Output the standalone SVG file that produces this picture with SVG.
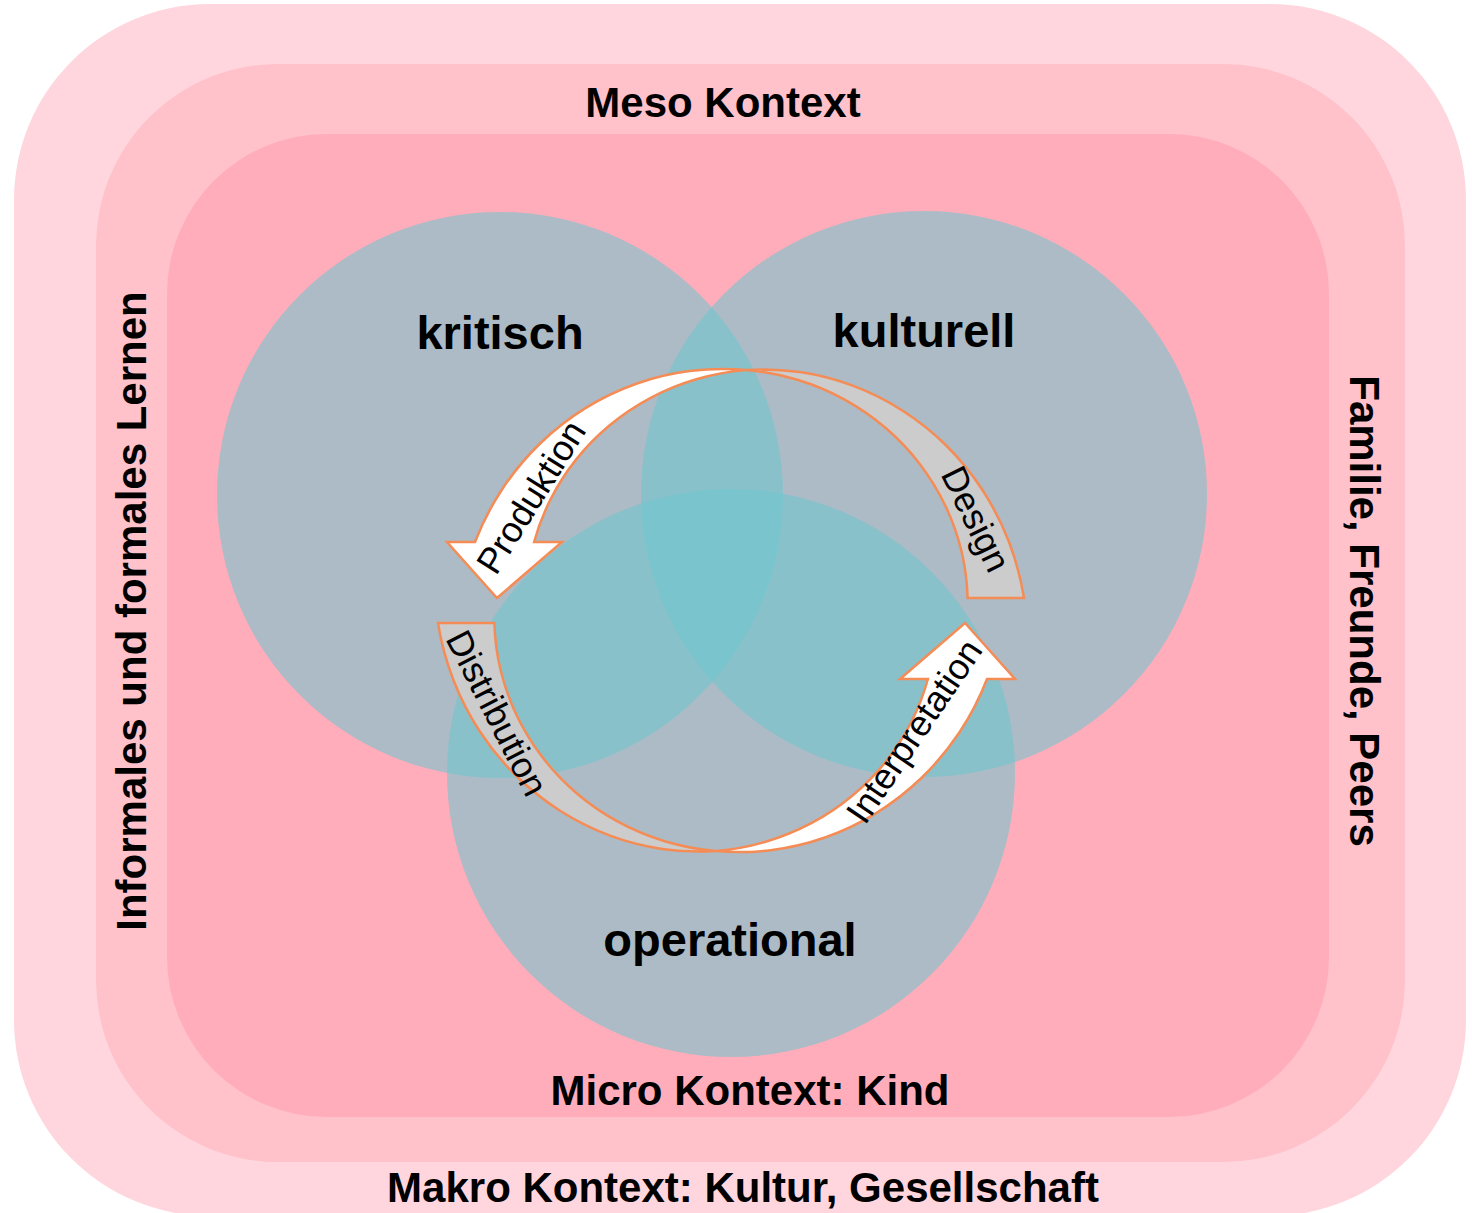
<svg xmlns="http://www.w3.org/2000/svg" width="1472" height="1213" viewBox="0 0 1472 1213">
<style>
.ctx{font-family:"Liberation Sans",Arial,sans-serif;font-weight:bold;font-size:42px;fill:#000;text-anchor:middle}
.lit{font-family:"Liberation Sans",Arial,sans-serif;font-weight:bold;font-size:47px;fill:#000;text-anchor:middle}
.arr{font-family:"Liberation Sans",Arial,sans-serif;font-size:36px;fill:#000;text-anchor:middle;dominant-baseline:central}
.circ{fill:#70C6CF;fill-opacity:0.58}
.aw{fill:#FFFFFF;stroke:#F58C55;stroke-width:2.5;stroke-linejoin:miter}
.ag{fill:#CCCCCC;stroke:#F58C55;stroke-width:2.5;stroke-linejoin:miter}
</style>
<defs>
<path id="shapeProd" d="M 746.2,370 A 255 255 0 0 0 691.4,370.8 A 260 260 0 0 0 637,383.5 A 265 265 0 0 0 585.8,407.9 A 269 269 0 0 0 540.1,443.5 A 274 274 0 0 0 502.5,488.7 A 279 279 0 0 0 475,542 L 447,542 L 497,598 L 562,542 L 534.1,542 A 227 227 0 0 1 550.7,499 A 232 232 0 0 1 576,459.6 A 237 237 0 0 1 609.7,425.3 A 241 241 0 0 1 650.2,398.1 A 246 246 0 0 1 696.3,379.3 A 251 251 0 0 1 746.2,370 Z"/>
<path id="shapeDes" d="M 746.2,370 A 255 255 0 0 1 799.9,372.1 A 259 259 0 0 1 852.7,385.7 A 263 263 0 0 1 902.3,410.5 A 267 267 0 0 1 946.2,445.5 A 271 271 0 0 1 982.3,489.8 A 275 275 0 0 1 1008.7,541.3 A 279 279 0 0 1 1024,598 L 967.6,598 A 227 227 0 0 0 961.5,551.2 A 231 231 0 0 0 945.5,506 A 235 235 0 0 0 920.1,464.4 A 239 239 0 0 0 886,428.3 A 243 243 0 0 0 844.6,399.6 A 247 247 0 0 0 797.3,379.8 A 251 251 0 0 0 746.2,370 Z"/>
</defs>
<rect width="1472" height="1213" fill="#FFFFFF"/>
<g id="makro">
<rect x="14" y="4" width="1452" height="1212" rx="196" ry="196" fill="#FFD6DE"/>
<text class="ctx" x="743" y="1202">Makro Kontext: Kultur, Gesellschaft</text>
</g>
<g id="meso">
<rect x="96" y="64" width="1309" height="1098" rx="182" ry="182" fill="#FFC1CA"/>
<text class="ctx" x="723" y="117">Meso Kontext</text>
<text class="ctx" transform="translate(146,611) rotate(-90)">Informales und formales Lernen</text>
<text class="ctx" transform="translate(1350,611) rotate(90)">Familie, Freunde, Peers</text>
</g>
<g id="micro">
<rect x="167" y="134" width="1162" height="983" rx="160" ry="160" fill="#FFADBA"/>
<text class="ctx" x="750" y="1105">Micro Kontext: Kind</text>
</g>
<g id="kritisch">
<circle class="circ" cx="500" cy="495" r="283"/>
<text class="lit" x="500" y="349">kritisch</text>
</g>
<g id="kulturell">
<circle class="circ" cx="924" cy="494" r="283"/>
<text class="lit" x="924" y="347">kulturell</text>
</g>
<g id="operational">
<circle class="circ" cx="731" cy="773" r="284"/>
<text class="lit" x="730" y="956">operational</text>
</g>
<g id="connectors">
<g id="produktion">
<use href="#shapeProd" class="aw"/>
<text class="arr" transform="translate(531,497) rotate(-58)">Produktion</text>
</g>
<g id="design">
<use href="#shapeDes" class="ag"/>
<text class="arr" transform="translate(976,519) rotate(64)">Design</text>
</g>
<g id="distribution">
<use href="#shapeDes" class="ag" transform="rotate(180 731 610.5)"/>
<text class="arr" transform="translate(497,713) rotate(63)">Distribution</text>
</g>
<g id="interpretation">
<use href="#shapeProd" class="aw" transform="rotate(180 731 610.5)"/>
<text class="arr" transform="translate(914,731) rotate(-56)">Interpretation</text>
</g>
</g>
</svg>
